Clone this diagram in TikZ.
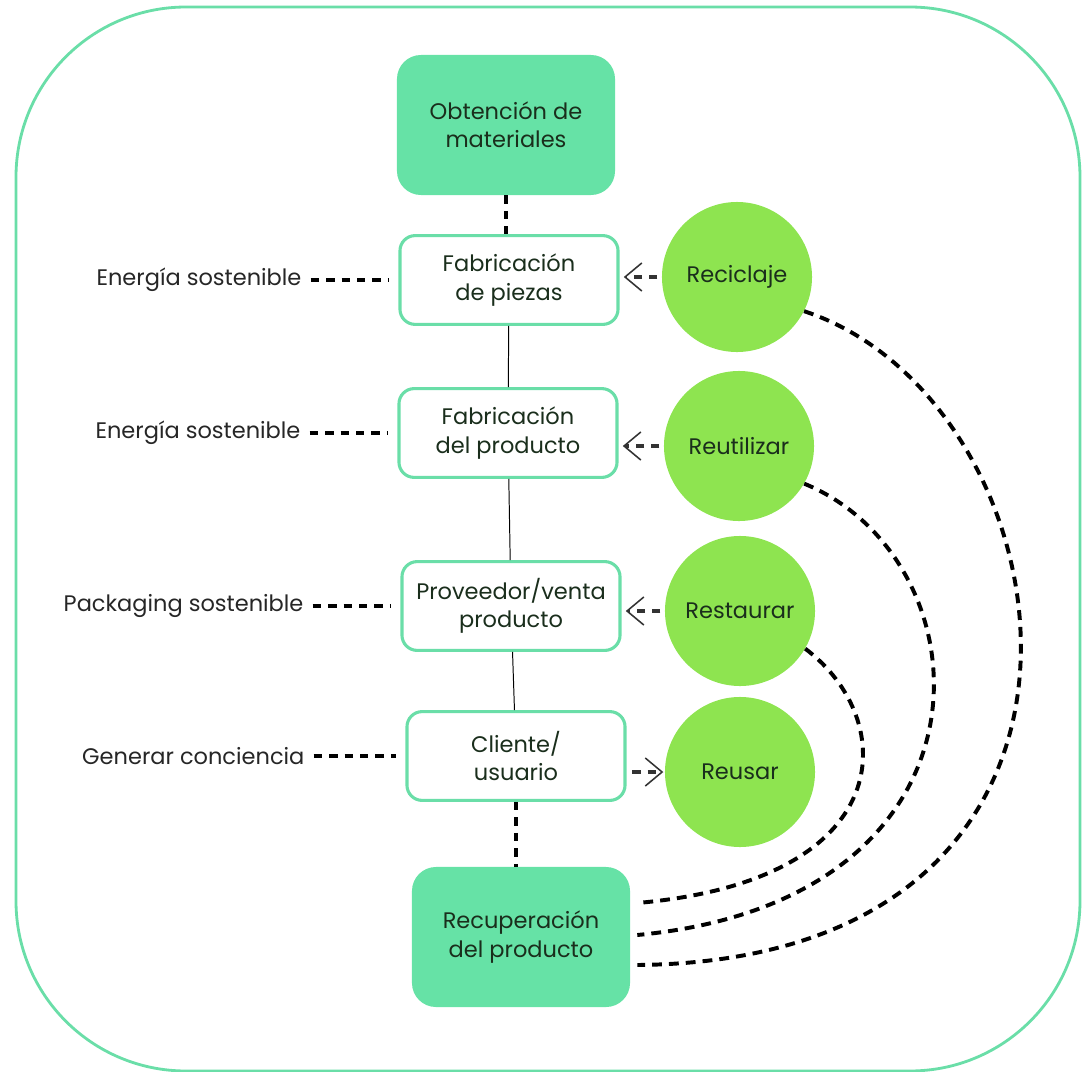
\documentclass[tikz,border=0pt]{standalone}
\usepackage{fontspec}
\setmainfont{Poppins}
\usetikzlibrary{arrows.meta, calc, positioning}

\definecolor{menta}{RGB}{102,226,166}
\definecolor{lima}{RGB}{142,228,80}
\definecolor{borde}{RGB}{106,222,168}
\definecolor{tinta}{RGB}{26,46,28}

\begin{document}
\begin{tikzpicture}[x=0.025cm, y=-0.025cm, font=\fontsize{16}{20}\selectfont,
    etapa/.style={draw=borde, line width=2.2pt, fill=white, rounded corners=0.38cm,
      minimum width=5.45cm, minimum height=2.22cm, align=center, text=tinta},
    extremo/.style={fill=menta, rounded corners=0.6cm, minimum width=5.45cm,
      minimum height=3.5cm, align=center, text=tinta},
    erre/.style={circle, fill=lima, minimum size=3.75cm, inner sep=0pt, text=tinta},
    nota/.style={text=black!85},
    enlace/.style={line width=0.7pt},
    tramo/.style={line width=2.8pt, dash pattern=on 6pt off 5pt},
    lateral/.style={line width=2.2pt, dash pattern=on 6pt off 5pt},
    retorno/.style={line width=2.8pt, dash pattern=on 7pt off 5pt},
    flecha/.style={black!80, line width=2.2pt, dash pattern=on 6pt off 5pt,
      -{Straight Barb[length=4.2mm, width=7mm, line width=1.1pt]}}]
    \useasboundingbox (0,0) rectangle (1088,1072);
    \draw[borde, line width=2pt, rounded corners=4.25cm] (16,7) rectangle (1080,1071);

    % etapas del ciclo
    \node[extremo] (obtencion) at (506,125) {Obtención de\\materiales};
    \node[etapa] (piezas) at (509,280) {Fabricación\\de piezas};
    \node[etapa] (producto) at (508,433) {Fabricación\\del producto};
    \node[etapa] (venta) at (511,606) {Proveedor/venta\\producto};
    \node[etapa] (cliente) at (516,756) {Cliente/\\usuario};
    \node[extremo] (recuperacion) at (521,937) {Recuperación\\del producto};

    \draw[tramo] (obtencion.south) -- (obtencion.south |- piezas.north);
    \draw[enlace] (piezas) -- (producto);
    \draw[enlace] (producto) -- (venta);
    \draw[enlace] (venta) -- (cliente);
    \draw[tramo] (cliente.south) -- (cliente.south |- recuperacion.north);

    % notas a la izquierda
    \node[nota, left=2.3cm of piezas] (energia-a) {Energía sostenible};
    \node[nota, left=2.3cm of producto] (energia-b) {Energía sostenible};
    \node[nota, left=2.3cm of venta] (packaging) {Packaging sostenible};
    \node[nota, left=2.4cm of cliente] (conciencia) {Generar conciencia};

    \draw[lateral, shorten <=3pt, shorten >=7pt] (energia-a) -- (piezas);
    \draw[lateral, shorten <=3pt, shorten >=7pt] (energia-b) -- (producto);
    \draw[lateral, shorten <=3pt, shorten >=7pt] (packaging) -- (venta);
    \draw[lateral, shorten <=3pt, shorten >=7pt] (conciencia) -- (cliente);

    % las erres
    \node[erre] (reciclaje) at (737,277) {Reciclaje};
    \node[erre] (reutilizar) at (739,446) {Reutilizar};
    \node[erre] (restaurar) at (740,611) {Restaurar};
    \node[erre] (reusar) at (740,772) {Reusar};

    \draw[flecha, shorten <=3pt, shorten >=3pt] (reciclaje.west) -- (reciclaje.west -| piezas.east);
    \draw[flecha, shorten <=3pt, shorten >=3pt] (reutilizar.west) -- (reutilizar.west -| producto.east);
    \draw[flecha, shorten <=3pt, shorten >=3pt] (restaurar.west) -- (restaurar.west -| venta.east);
    \draw[flecha, shorten <=4pt, shorten >=1pt] (reusar.west -| cliente.east) -- (reusar.west);

    % vuelta desde la recuperacion
    \draw[retorno] (restaurar.-30) .. controls (900,720) and (900,880) .. ($(recuperacion.east)+(7,-34)$);
    \draw[retorno] (reutilizar.-30) .. controls (990,560) and (1010,900) .. ($(recuperacion.east)+(7,-2)$);
    \draw[retorno] (reciclaje.-27) .. controls (1075,400) and (1165,960) .. ($(recuperacion.east)+(7,28)$);
\end{tikzpicture}
\end{document}
